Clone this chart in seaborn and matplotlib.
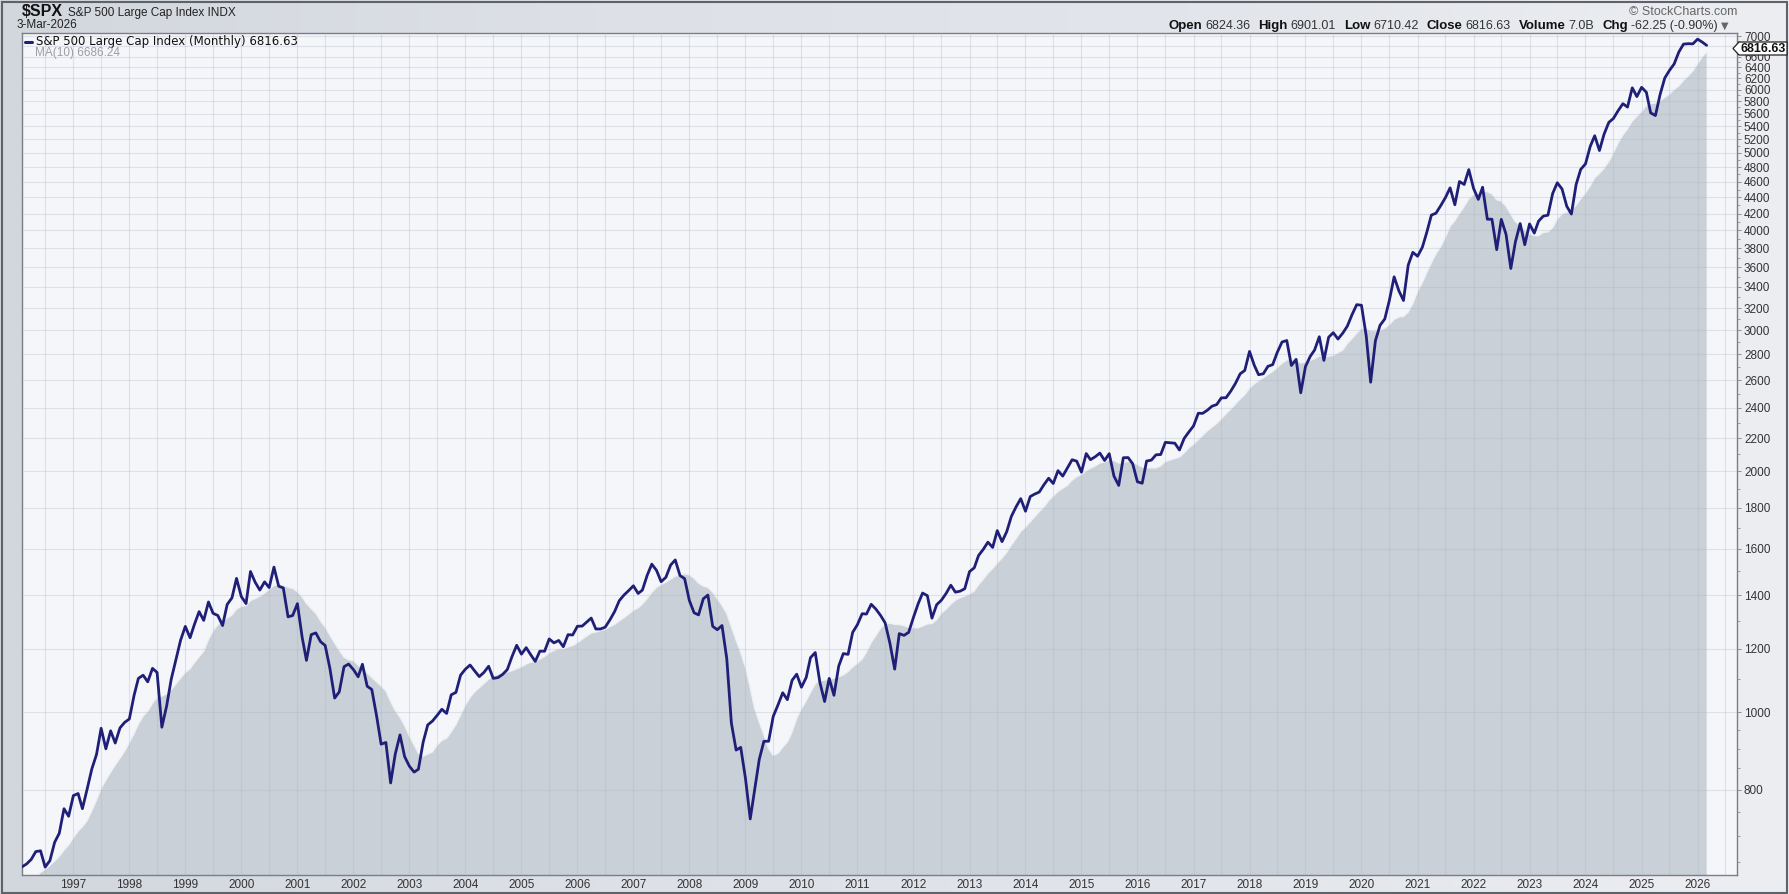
import matplotlib
matplotlib.use("Agg")
import matplotlib.pyplot as plt
import matplotlib.dates as mdates
from matplotlib.colors import LinearSegmentedColormap
from matplotlib.lines import Line2D
from matplotlib.patches import Polygon, Rectangle
from matplotlib.ticker import FixedLocator, FuncFormatter, NullFormatter
import numpy as np
import pandas as pd
import seaborn as sns

# S&P 500 monthly closes (Jan..Dec); 1995 only feeds the MA(10)
c1995 = [470.42, 487.39, 500.71, 514.71, 533.40, 544.75, 562.06, 561.88, 584.41, 581.50, 605.37, 615.93]
c1996 = [636.02, 640.43, 645.50, 654.17, 669.12, 670.63, 639.95, 651.99, 687.33, 705.27, 757.02, 740.74]
c1997 = [786.16, 790.82, 757.12, 801.34, 848.28, 885.14, 954.31, 899.47, 947.28, 914.62, 955.40, 970.43]
c1998 = [980.28, 1049.34, 1101.75, 1111.75, 1090.82, 1133.84, 1120.67, 957.28, 1017.01, 1098.67, 1163.63, 1229.23]
c1999 = [1279.64, 1238.33, 1286.37, 1335.18, 1301.84, 1372.71, 1328.72, 1320.41, 1282.71, 1362.93, 1388.91, 1469.25]
c2000 = [1394.46, 1366.42, 1498.58, 1452.43, 1420.60, 1454.60, 1430.83, 1517.68, 1436.51, 1429.40, 1315.23, 1320.28]
c2001 = [1366.01, 1239.94, 1160.33, 1249.46, 1255.82, 1224.42, 1211.23, 1133.58, 1040.94, 1059.78, 1139.45, 1148.08]
c2002 = [1130.20, 1106.73, 1147.39, 1076.92, 1067.14, 989.82, 911.62, 916.07, 815.28, 885.76, 936.31, 879.82]
c2003 = [855.70, 841.15, 848.18, 916.92, 963.59, 974.50, 990.31, 1008.01, 995.97, 1050.71, 1058.20, 1111.92]
c2004 = [1131.13, 1144.94, 1126.21, 1107.30, 1120.68, 1140.84, 1101.72, 1104.24, 1114.58, 1130.20, 1173.82, 1211.92]
c2005 = [1181.27, 1203.60, 1180.59, 1156.85, 1191.50, 1191.33, 1234.18, 1220.33, 1228.81, 1207.01, 1249.48, 1248.29]
c2006 = [1280.08, 1280.66, 1294.83, 1310.61, 1270.09, 1270.20, 1276.66, 1303.82, 1335.85, 1377.94, 1400.63, 1418.30]
c2007 = [1438.24, 1406.82, 1420.86, 1482.37, 1530.62, 1503.35, 1455.27, 1473.99, 1526.75, 1549.38, 1481.14, 1468.36]
c2008 = [1378.55, 1330.63, 1322.70, 1385.59, 1400.38, 1280.00, 1267.38, 1282.83, 1166.36, 968.75, 896.24, 903.25]
c2009 = [825.88, 735.09, 797.87, 872.81, 919.14, 919.32, 987.48, 1020.62, 1057.08, 1036.19, 1095.63, 1115.10]
c2010 = [1073.87, 1104.49, 1169.43, 1186.69, 1089.41, 1030.71, 1101.60, 1049.33, 1141.20, 1183.26, 1180.55, 1257.64]
c2011 = [1286.12, 1327.22, 1325.83, 1363.61, 1345.20, 1320.64, 1292.28, 1218.89, 1131.42, 1253.30, 1246.96, 1257.60]
c2012 = [1312.41, 1365.68, 1408.47, 1397.91, 1310.33, 1362.16, 1379.32, 1406.58, 1440.67, 1412.16, 1416.18, 1426.19]
c2013 = [1498.11, 1514.68, 1569.19, 1597.57, 1630.74, 1606.28, 1685.73, 1632.97, 1681.55, 1756.54, 1805.81, 1848.36]
c2014 = [1782.59, 1859.45, 1872.34, 1883.95, 1923.57, 1960.23, 1930.67, 2003.37, 1972.29, 2018.05, 2067.56, 2058.90]
c2015 = [1994.99, 2104.50, 2067.89, 2085.51, 2107.39, 2063.11, 2103.84, 1972.18, 1920.03, 2079.36, 2080.41, 2043.94]
c2016 = [1940.24, 1932.23, 2059.74, 2065.30, 2096.95, 2098.86, 2173.60, 2170.95, 2168.27, 2126.15, 2198.81, 2238.83]
c2017 = [2278.87, 2363.64, 2362.72, 2384.20, 2411.80, 2423.41, 2470.30, 2471.65, 2519.36, 2575.26, 2647.58, 2673.61]
c2018 = [2823.81, 2713.83, 2640.87, 2648.05, 2705.27, 2718.37, 2816.29, 2901.52, 2913.98, 2711.74, 2760.17, 2506.85]
c2019 = [2704.10, 2784.49, 2834.40, 2945.83, 2752.06, 2941.76, 2980.38, 2926.46, 2976.74, 3037.56, 3140.98, 3230.78]
c2020 = [3225.52, 2954.22, 2584.59, 2912.43, 3044.31, 3100.29, 3271.12, 3500.31, 3363.00, 3269.96, 3621.63, 3756.07]
c2021 = [3714.24, 3811.15, 3972.89, 4181.17, 4204.11, 4297.50, 4395.26, 4522.68, 4307.54, 4605.38, 4567.00, 4766.18]
c2022 = [4515.55, 4373.94, 4530.41, 4131.93, 4132.15, 3785.38, 4130.29, 3955.00, 3585.62, 3871.98, 4080.11, 3839.50]
c2023 = [4076.60, 3970.15, 4109.31, 4169.48, 4179.83, 4450.38, 4588.96, 4507.66, 4288.05, 4193.80, 4567.80, 4769.83]
c2024 = [4845.65, 5096.27, 5254.35, 5035.69, 5277.51, 5460.48, 5522.30, 5648.40, 5762.48, 5705.45, 6032.38, 5881.63]
c2025 = [6040.53, 5954.50, 5611.85, 5569.06, 5911.69, 6204.95, 6339.39, 6460.26, 6688.46, 6840.20, 6849.09, 6845.50]
c2026 = [6939.03, 6878.88, 6816.63]

y_ticks = [800] + list(range(1000, 7001, 200))
y_hidden = [6800]  # sits fully under the last-price tag
y_minor = [650, 700, 750, 850, 900, 950] + [v for v in range(1100, 7000, 200)]

ohlc = [("Open", "6824.36"), ("High", "6901.01"), ("Low", "6710.42"),
        ("Close", "6816.63"), ("Volume", "7.0B"), ("Chg", "-62.25 (-0.90%)")]
last_close = "6816.63"
last_ma = "6686.24"

closes = (c1995 + c1996 + c1997 + c1998 + c1999 + c2000 + c2001 + c2002 + c2003
          + c2004 + c2005 + c2006 + c2007 + c2008 + c2009 + c2010 + c2011 + c2012
          + c2013 + c2014 + c2015 + c2016 + c2017 + c2018 + c2019 + c2020 + c2021
          + c2022 + c2023 + c2024 + c2025 + c2026)
df = pd.DataFrame({"date": pd.date_range("1995-01-01", periods=len(closes), freq="MS"),
                   "close": closes})
df["ma10"] = df["close"].rolling(10).mean()

sns.set_theme(style="white")
plt.rcParams["font.family"] = ["Liberation Sans", "DejaVu Sans"]

W, H = 1789, 894
fig = plt.figure(figsize=(W / 100, H / 100), dpi=100)


def fx(px):
    return px / W


def fy(py):
    return 1 - py / H


# background gradient
bg = fig.add_axes([0, 0, 1, 1], zorder=0)
grad = LinearSegmentedColormap.from_list("bg", ["#d2d6dd", "#dde1e7", "#e2e5eb", "#eceef2"])
bg.imshow(np.linspace(0, 1, 256).reshape(1, -1), cmap=grad, aspect="auto", extent=[0, 1, 0, 1])
bg.set_axis_off()

ax = fig.add_axes([fx(22), fy(875), fx(1737 - 22), (875 - 33) / H], zorder=1)
ax.set_facecolor("#f4f6fa")

ax.fill_between(df["date"], df["ma10"], 1, color="#c9d0d7", lw=0, zorder=1)
ax.plot(df["date"], df["ma10"], color="#eef1f5", lw=1.0, zorder=1.2)
sns.lineplot(data=df, x="date", y="close", ax=ax, color="#1f1f78", lw=2.0, zorder=3)

ax.set_yscale("log")
ax.set_ylim(625.5, 7063)
ax.set_xlim(pd.Timestamp("1996-02-01"), pd.Timestamp("2026-09-15"))
ax.set_xlabel("")
ax.set_ylabel("")

ax.xaxis.set_major_locator(mdates.MonthLocator(bymonth=[1, 7]))
ax.xaxis.set_minor_locator(mdates.MonthLocator())
ax.xaxis.set_major_formatter(FuncFormatter(
    lambda v, pos: str(mdates.num2date(v).year) if mdates.num2date(v).month == 1 else ""))
ax.tick_params(axis="x", which="major", length=0, pad=3, labelsize=8.5, labelcolor="#333333")
ax.tick_params(axis="x", which="minor", direction="in", length=2.5, width=0.6, color="#8a8f96")

ax.yaxis.tick_right()
ax.yaxis.set_major_locator(FixedLocator(y_ticks))
ax.yaxis.set_major_formatter(FuncFormatter(
    lambda v, pos: "" if round(v) in y_hidden else f"{v:.0f}"))
ax.yaxis.set_minor_locator(FixedLocator(y_minor))
ax.yaxis.set_minor_formatter(NullFormatter())
ax.tick_params(axis="y", which="major", direction="out", length=3, width=0.7, color="#8a8f96",
               pad=2, labelsize=8.5, labelcolor="#333333")
ax.tick_params(axis="y", which="minor", direction="out", length=2, width=0.6, color="#8a8f96")

ax.set_axisbelow(False)
ax.grid(True, which="major", color="#a8b0bb", alpha=0.3, lw=0.8)
for s in ax.spines.values():
    s.set_color("#7a7f87")
    s.set_linewidth(1.0)

fig.canvas.draw()
r = fig.canvas.get_renderer()

# header
t = fig.text(fx(22), fy(12), "$SPX", fontsize=11.5, fontweight="bold", color="#111111", va="center")
x = t.get_window_extent(r).x1 + 5
fig.text(fx(x), fy(13), "S&P 500 Large Cap Index INDX", fontsize=8.5, color="#222222", va="center")
fig.text(fx(17), fy(25), "3-Mar-2026", fontsize=8.5, color="#222222", va="center")
fig.text(fx(1737), fy(12), "\u00a9 StockCharts.com", fontsize=9, color="#666666", va="center", ha="right")

x = 1728
t = fig.text(fx(x), fy(26), "\u25bc", fontsize=7, color="#666666", va="center", ha="right",
             family=["DejaVu Sans"])
x = t.get_window_extent(r).x0 - 3
for label, value in reversed(ohlc):
    t = fig.text(fx(x), fy(26), value, fontsize=9, color="#333333", va="center", ha="right")
    x = t.get_window_extent(r).x0 - 3
    t = fig.text(fx(x), fy(26), label, fontsize=9.5, fontweight="bold", color="#111111",
                 va="center", ha="right")
    x = t.get_window_extent(r).x0 - 8

# legend
fig.add_artist(Line2D([fx(25), fx(32)], [fy(42), fy(42)], color="#1f1f78", lw=2.2,
                      transform=fig.transFigure))
fig.text(fx(36), fy(42), f"S&P 500 Large Cap Index (Monthly) {last_close}", fontsize=8.5,
         color="#111111", va="center", family=["DejaVu Sans"])
fig.add_artist(Polygon([(fx(25), fy(57)), (fx(28), fy(50)), (fx(30), fy(53)), (fx(32), fy(49)),
                        (fx(34), fy(57))], closed=True, color="#b8bec6", transform=fig.transFigure))
fig.text(fx(35), fy(53), f"MA(10) {last_ma}", fontsize=8.5, color="#9a9fa7", va="center")

# last price tag
tag = Polygon([(fx(1733), fy(48.5)), (fx(1739), fy(42)), (fx(1787), fy(42)), (fx(1787), fy(55)),
               (fx(1739), fy(55))], closed=True, facecolor="white", edgecolor="#222222", lw=0.9,
              transform=fig.transFigure, zorder=5)
fig.add_artist(tag)
fig.text(fx(1763), fy(48.5), last_close, fontsize=9, fontweight="bold", color="#111111",
         va="center", ha="center", family=["Liberation Sans Narrow", "Liberation Sans"], zorder=6)

fig.add_artist(Rectangle((0.001, 0.001), 0.998, 0.997, fill=False, edgecolor="#5e6269", lw=1.5,
                         transform=fig.transFigure))

fig.savefig("out.png", dpi=100)
